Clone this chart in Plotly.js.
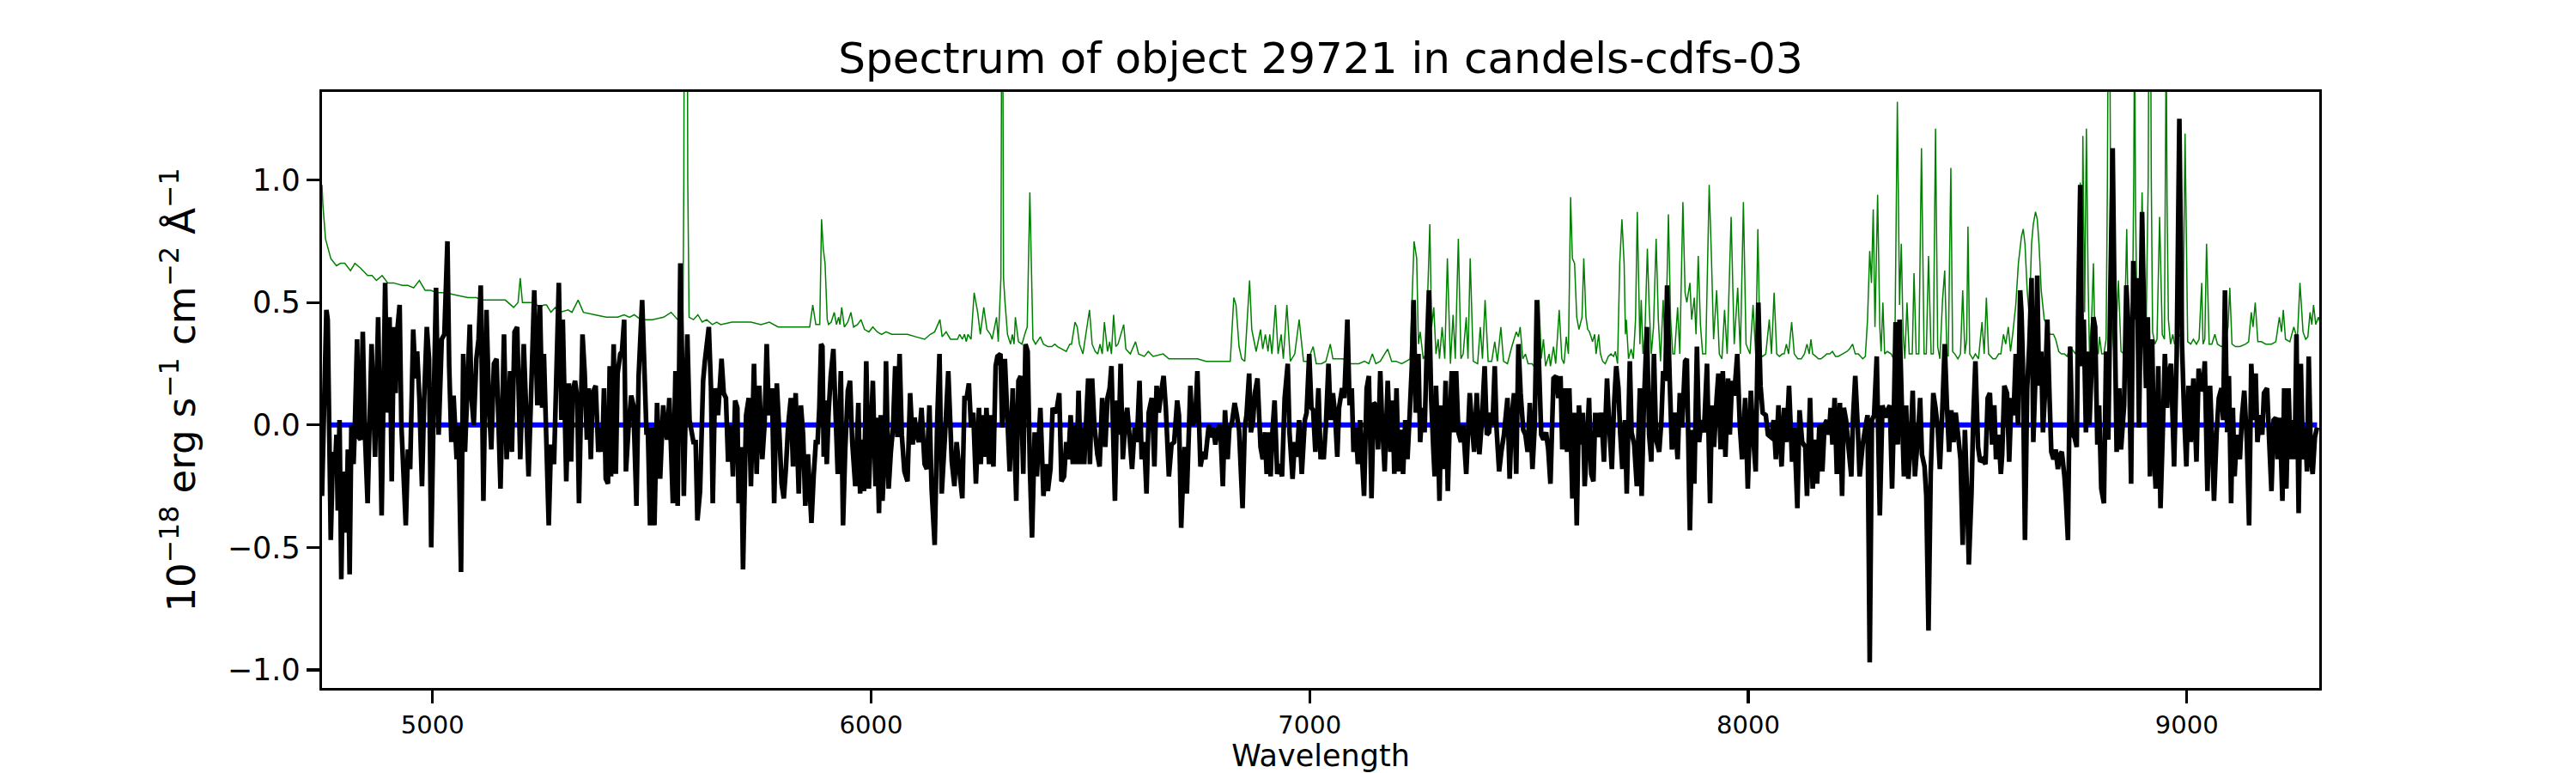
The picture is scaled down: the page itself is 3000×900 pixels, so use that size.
<!DOCTYPE html>
<html><head><meta charset="utf-8">
<script src="https://cdn.plot.ly/plotly-3.0.1.min.js"></script>
<style>html,body{margin:0;padding:0;background:#fff;}#chart{width:3000px;height:900px;}</style>
</head><body><div id="chart"></div>
<script>
// ---- Data: [wavelength (Angstrom), flux (1e-18 erg/s/cm2/A)] ----
const fluxSeg1 = [[4748,-0.29],[4758,0.47],[4761,0.43],[4768,-0.47],[4773,-0.11],[4777,-0.20],[4781,-0.04],[4784,-0.35],[4788,0.02],[4792,-0.63],[4796,-0.19],[4803,-0.44],[4807,-0.10],[4811,-0.61],[4815,0.00],[4820,-0.16],[4823,0.00],[4828,0.35],[4832,-0.05],[4836,-0.06],[4841,0.38],[4846,-0.04],[4852,-0.32],[4861,0.33],[4869,-0.13],[4876,0.44],[4884,-0.37],[4892,0.58],[4897,0.05],[4902,0.44],[4907,-0.23],[4912,0.40],[4916,0.13],[4919,0.37],[4925,0.49],[4929,0.00],[4939,-0.41],[4944,-0.10],[4949,-0.18],[4956,0.39],[4961,0.19],[4965,0.30],[4970,0.11],[4976,-0.25],[4981,0.11],[4987,0.40],[4992,0.27],[4997,-0.50],[5003,0.11],[5008,0.56],[5014,-0.04],[5021,0.35],[5027,0.37],[5034,0.75],[5038,0.24],[5043,-0.07],[5048,0.12],[5055,-0.14],[5059,0.00],[5065,-0.60],[5070,0.29],[5074,-0.11],[5085,0.41],[5089,0.11],[5094,0.00],[5100,0.27],[5105,0.35],[5110,0.57],[5116,-0.31],[5123,0.47],[5129,0.07],[5134,-0.10],[5140,0.25],[5146,0.27],[5155,-0.26],[5163,0.37],[5169,-0.14],[5177,0.22],[5181,-0.11],[5187,0.38],[5193,0.40],[5200,-0.14],[5208,0.33],[5219,-0.21],[5232,0.55],[5239,0.08],[5245,0.49],[5250,0.07],[5254,0.29],[5265,-0.41],[5270,-0.08],[5277,-0.16],[5280,0.04],[5288,0.58],[5294,0.02],[5297,0.43],[5305,-0.23],[5311,0.17],[5316,-0.15]];
const fluxSeg2 = [[5320,0.14],[5325,0.18],[5330,0.11],[5334,-0.32],[5342,0.37],[5347,0.21],[5352,-0.06],[5356,0.15],[5361,-0.14],[5365,0.13],[5372,0.16],[5378,-0.11],[5383,-0.01],[5387,-0.11],[5391,0.15],[5395,-0.22],[5400,-0.24],[5404,0.24],[5407,-0.21],[5413,0.33],[5418,-0.20],[5422,0.21],[5428,0.29],[5432,0.30],[5437,0.43],[5441,-0.19],[5447,-0.01],[5453,0.12],[5458,0.08],[5465,-0.33],[5470,0.20],[5478,0.51],[5482,0.29],[5488,-0.04],[5491,-0.01],[5496,-0.41],[5501,-0.01],[5506,-0.41],[5512,0.09],[5519,-0.22],[5526,0.08],[5530,-0.01],[5535,-0.06],[5540,0.11],[5548,-0.32],[5554,0.22],[5559,-0.33],[5565,0.66],[5569,0.27],[5573,-0.29],[5581,0.37],[5586,0.02],[5595,-0.07],[5600,-0.07],[5604,-0.39],[5610,-0.27],[5617,0.18],[5621,0.26],[5630,0.40],[5635,0.15],[5639,-0.32],[5644,0.15],[5651,0.04],[5659,0.27],[5664,0.13],[5669,0.11],[5674,-0.15],[5680,0.00],[5685,-0.21],[5690,0.10],[5695,0.07],[5698,-0.32],[5704,-0.09],[5708,-0.59],[5715,0.04],[5721,0.11],[5726,-0.25],[5733,0.25],[5739,-0.20],[5745,0.16],[5752,-0.14],[5757,0.00],[5762,0.33],[5767,0.04],[5774,0.15],[5779,-0.32],[5785,0.17],[5791,-0.04],[5796,-0.24],[5801,-0.30],[5806,-0.17],[5811,0.00],[5817,0.11],[5822,-0.17],[5828,0.13],[5835,-0.28],[5840,0.08],[5845,-0.04],[5850,-0.33],[5856,-0.12],[5864,-0.40],[5869,-0.21],[5874,-0.07],[5878,-0.07],[5882,0.07],[5886,0.33]];
const fluxSeg3 = [[5889,0.32],[5892,-0.13],[5895,0.10],[5899,-0.16],[5903,0.05],[5908,0.20],[5914,0.31],[5920,0.00],[5924,-0.20],[5931,0.22],[5936,-0.41],[5941,-0.10],[5947,0.14],[5952,0.18],[5957,-0.07],[5964,-0.25],[5971,0.09],[5975,-0.28],[5978,-0.06],[5984,-0.27],[5989,0.26],[5995,-0.26],[5999,-0.06],[6004,0.18],[6010,-0.25],[6013,0.03],[6018,-0.36],[6022,0.04],[6026,-0.31],[6031,-0.12],[6034,0.26],[6040,-0.26],[6045,-0.11],[6050,-0.01],[6055,0.24],[6060,-0.05],[6065,0.29],[6070,-0.04],[6076,-0.19],[6083,-0.23],[6089,0.13],[6095,-0.08],[6099,0.03],[6104,-0.04],[6109,-0.07],[6115,0.07],[6122,-0.16],[6127,-0.18],[6133,0.08],[6138,-0.26],[6145,-0.49],[6151,0.03],[6156,0.29],[6161,-0.28],[6168,-0.06],[6176,0.22],[6184,-0.15],[6190,-0.25],[6195,-0.07],[6200,-0.16],[6208,-0.30],[6213,0.11],[6218,0.11],[6223,0.17],[6228,-0.01],[6233,0.05],[6239,-0.24],[6246,0.07],[6250,-0.16],[6254,0.04],[6259,-0.13],[6263,0.07],[6269,-0.16],[6273,0.04],[6279,-0.17],[6284,0.24],[6288,0.28],[6295,0.29],[6299,-0.01],[6305,0.27],[6311,0.02],[6316,-0.19],[6323,0.15],[6331,-0.31],[6336,0.18],[6341,0.20],[6347,-0.20],[6352,0.33],[6357,0.30],[6362,-0.17],[6367,-0.46],[6373,-0.03],[6378,-0.21],[6386,0.07],[6393,-0.29],[6399,-0.16],[6403,-0.27],[6409,-0.18],[6414,0.07],[6419,0.05],[6423,0.06],[6429,0.13],[6434,-0.23],[6440,-0.21],[6445,-0.07],[6450,-0.14],[6455,0.04]];
const fluxSeg4 = [[6460,-0.16],[6465,0.00],[6469,-0.16],[6473,0.14],[6478,-0.16],[6483,-0.01],[6486,-0.16],[6491,0.04],[6495,0.19],[6499,-0.16],[6504,0.19],[6509,0.00],[6516,-0.12],[6521,-0.17],[6527,0.11],[6534,-0.09],[6539,0.11],[6544,0.15],[6548,0.24],[6556,-0.31],[6561,0.10],[6565,-0.04],[6569,0.25],[6574,-0.14],[6580,0.02],[6584,0.07],[6589,-0.04],[6595,-0.18],[6601,-0.01],[6606,-0.07],[6612,0.18],[6617,-0.14],[6623,-0.07],[6628,-0.28],[6633,0.05],[6640,0.11],[6646,-0.17],[6651,0.16],[6656,0.05],[6661,0.13],[6667,0.20],[6672,0.07],[6679,-0.21],[6685,-0.08],[6691,-0.07],[6698,0.10],[6702,0.04],[6707,-0.42],[6712,-0.18],[6715,-0.09],[6720,-0.28],[6728,0.16],[6732,0.00],[6739,0.02],[6744,0.22],[6751,-0.17],[6757,-0.11],[6762,-0.14],[6770,0.00],[6775,-0.05],[6780,-0.01],[6785,-0.08],[6790,-0.02],[6796,0.00],[6802,-0.25],[6807,0.06],[6813,-0.14],[6817,-0.01],[6822,0.00],[6829,0.09],[6834,0.04],[6839,-0.02],[6847,-0.34],[6852,-0.01],[6856,0.04],[6862,0.21],[6866,-0.03],[6871,0.02],[6875,0.13],[6881,0.19],[6888,-0.09],[6893,-0.14],[6898,-0.03],[6902,-0.20],[6906,-0.03],[6911,-0.21],[6915,-0.03],[6920,0.10],[6926,-0.20],[6931,-0.16],[6937,-0.21],[6943,0.11],[6950,0.25],[6954,-0.03],[6961,-0.22],[6966,-0.07],[6971,-0.13],[6976,0.02],[6982,-0.20],[6989,0.02],[6993,0.05],[6999,0.29],[7004,0.07],[7008,0.06],[7013,-0.11],[7020,0.15],[7025,-0.14]];
const fluxSeg5 = [[7027,-0.09],[7032,-0.14],[7037,0.00],[7043,0.25],[7048,0.02],[7053,0.13],[7058,0.04],[7063,-0.13],[7067,0.07],[7074,0.15],[7079,0.11],[7086,0.43],[7091,0.08],[7096,0.15],[7100,-0.11],[7105,-0.01],[7110,-0.16],[7115,0.02],[7124,-0.29],[7130,0.15],[7135,0.20],[7141,-0.30],[7146,0.09],[7152,0.08],[7156,-0.10],[7161,0.22],[7165,0.02],[7171,-0.19],[7178,0.18],[7184,-0.11],[7189,0.10],[7193,-0.20],[7198,0.15],[7203,-0.19],[7208,-0.02],[7213,-0.20],[7218,0.02],[7223,-0.14],[7228,0.04],[7233,0.24],[7237,0.51],[7242,0.05],[7248,0.29],[7252,-0.07],[7257,0.07],[7262,-0.03],[7267,0.30],[7272,0.55],[7277,0.11],[7282,-0.10],[7285,-0.21],[7288,0.16],[7293,-0.09],[7296,-0.31],[7300,0.08],[7304,-0.18],[7310,0.18],[7315,-0.27],[7319,-0.01],[7324,0.22],[7328,-0.03],[7334,0.22],[7339,-0.03],[7345,-0.07],[7350,0.00],[7357,-0.20],[7365,0.13],[7370,0.00],[7375,-0.11],[7381,0.13],[7387,-0.12],[7392,0.00],[7399,0.24],[7404,-0.04],[7409,-0.03],[7413,0.05],[7417,0.00],[7422,0.24],[7426,-0.01],[7432,-0.19],[7437,-0.11],[7443,-0.04],[7451,0.11],[7456,-0.22],[7461,0.04],[7466,0.13],[7471,-0.20],[7476,0.33],[7481,0.13],[7487,-0.02],[7492,-0.04],[7497,-0.11],[7502,0.09],[7508,-0.18],[7513,-0.01],[7518,0.51],[7523,0.24],[7528,-0.04],[7533,-0.06],[7539,-0.03],[7544,-0.10],[7549,-0.24],[7556,0.19],[7562,0.20],[7567,0.11],[7572,0.20],[7576,-0.10],[7582,0.15],[7587,-0.11],[7592,0.15],[7596,-0.09]];
const fluxSeg6 = [[7599,-0.30],[7604,0.05],[7609,-0.41],[7614,0.08],[7619,-0.08],[7623,0.05],[7627,-0.25],[7632,-0.09],[7637,0.11],[7642,-0.20],[7647,-0.23],[7651,0.04],[7656,0.04],[7660,-0.05],[7665,0.05],[7671,-0.15],[7678,0.19],[7683,0.00],[7689,-0.18],[7694,0.08],[7699,0.24],[7704,0.15],[7708,-0.03],[7713,-0.18],[7719,0.02],[7723,-0.28],[7730,0.26],[7734,-0.03],[7740,-0.08],[7746,-0.25],[7753,0.15],[7757,-0.29],[7762,0.08],[7769,0.40],[7774,-0.04],[7779,-0.15],[7785,0.29],[7790,-0.06],[7797,-0.11],[7802,0.02],[7806,0.22],[7811,0.18],[7815,0.57],[7821,0.18],[7826,-0.10],[7832,0.05],[7839,-0.14],[7844,0.13],[7849,-0.01],[7856,0.26],[7860,0.27],[7867,-0.43],[7872,-0.02],[7877,-0.24],[7883,0.32],[7888,-0.07],[7893,0.02],[7899,-0.03],[7906,0.25],[7913,-0.32],[7917,0.08],[7922,-0.09],[7928,0.11],[7932,0.21],[7937,-0.10],[7942,0.22],[7948,-0.13],[7954,0.19],[7958,-0.04],[7963,0.18],[7968,0.12],[7975,0.29],[7981,-0.01],[7986,-0.14],[7993,0.11],[7999,-0.26],[8006,0.14],[8011,-0.04],[8017,-0.19],[8023,0.50],[8028,0.16],[8033,0.05],[8040,0.04],[8045,-0.04],[8052,-0.05],[8058,0.02],[8063,-0.14],[8069,0.08],[8076,-0.17],[8082,0.07],[8087,-0.07],[8093,0.16],[8100,-0.15],[8105,-0.01],[8112,-0.34],[8117,0.06],[8123,-0.07],[8130,-0.09],[8134,-0.29],[8141,0.11],[8147,-0.26],[8152,-0.06],[8157,-0.24],[8162,-0.01]];
const fluxSeg7 = [[8166,0.00],[8169,-0.19],[8174,0.00],[8179,0.02],[8184,-0.04],[8188,0.07],[8192,-0.08],[8197,0.11],[8202,-0.20],[8205,-0.04],[8209,0.09],[8214,-0.29],[8218,0.07],[8223,0.02],[8228,-0.08],[8235,-0.21],[8239,0.03],[8244,0.20],[8250,-0.02],[8254,-0.21],[8261,-0.08],[8267,-0.01],[8272,0.04],[8277,-0.97],[8282,0.02],[8287,0.04],[8293,0.28],[8300,-0.37],[8306,0.08],[8313,0.03],[8317,0.06],[8323,0.08],[8328,-0.26],[8332,0.04],[8336,0.42],[8341,-0.08],[8345,0.43],[8351,0.02],[8355,-0.21],[8360,0.08],[8365,-0.22],[8370,-0.09],[8375,0.14],[8380,-0.21],[8387,-0.04],[8392,0.11],[8396,-0.12],[8402,-0.17],[8406,-0.29],[8411,-0.84],[8416,-0.20],[8422,0.13],[8427,0.07],[8432,-0.01],[8437,-0.18],[8443,0.08],[8448,0.33],[8453,0.08],[8458,-0.11],[8463,0.06],[8468,-0.07],[8473,0.05],[8479,-0.05],[8484,-0.14],[8489,-0.49],[8494,-0.02],[8499,-0.28],[8503,-0.57],[8509,-0.28],[8513,0.02],[8518,0.26],[8524,-0.09],[8529,-0.15],[8535,-0.14],[8541,-0.16],[8546,0.11],[8551,0.13],[8556,-0.08],[8561,0.08],[8565,-0.14],[8571,-0.04],[8576,-0.20],[8579,-0.12],[8584,0.16],[8590,0.13],[8595,-0.15],[8600,0.11],[8605,0.04],[8610,0.29],[8615,0.00],[8620,0.55],[8623,0.46],[8626,0.27],[8631,-0.47],[8636,0.15],[8641,0.33],[8646,0.60],[8650,-0.07],[8654,0.15],[8659,0.61],[8663,0.16],[8668,0.30],[8672,-0.03],[8676,0.11],[8682,0.43],[8687,0.11],[8691,-0.11],[8696,-0.14],[8701,-0.10],[8706,-0.18],[8711,-0.12],[8715,-0.11],[8721,-0.21],[8724,-0.29],[8729,-0.47],[8734,0.32]];
const fluxSeg8 = [[8739,-0.04],[8744,-0.05],[8749,-0.09],[8752,0.43],[8757,0.98],[8761,0.24],[8765,0.43],[8770,-0.03],[8774,0.30],[8778,0.00],[8783,0.24],[8787,0.44],[8791,0.40],[8796,-0.08],[8800,0.08],[8805,-0.26],[8811,-0.32],[8816,0.30],[8821,-0.06],[8826,0.58],[8831,1.13],[8835,0.52],[8840,-0.11],[8846,0.15],[8850,-0.10],[8857,0.08],[8862,0.57],[8867,0.40],[8873,-0.24],[8878,0.67],[8883,0.43],[8887,0.60],[8891,-0.01],[8898,0.87],[8902,0.49],[8907,0.15],[8911,0.44],[8916,-0.21],[8921,0.35],[8925,-0.10],[8929,-0.26],[8935,0.24],[8940,-0.34],[8945,-0.04],[8950,0.29],[8955,0.07],[8959,0.21],[8964,0.25],[8971,-0.17],[8977,0.29],[8983,1.25],[8989,0.33],[8994,0.04],[8999,-0.17],[9004,0.16],[9009,-0.07],[9015,0.19],[9022,-0.15],[9027,0.23],[9033,0.14],[9037,0.15],[9041,0.26],[9047,-0.27],[9053,0.16],[9057,-0.03],[9062,-0.31],[9068,-0.03],[9073,0.11],[9079,0.15],[9083,0.02],[9087,0.55],[9092,-0.03],[9096,0.20],[9101,-0.32],[9105,0.07],[9109,-0.21],[9114,-0.04],[9121,-0.14],[9126,0.04],[9131,0.14],[9137,-0.07],[9142,-0.41],[9147,0.25],[9152,0.02],[9157,0.21],[9161,-0.07],[9167,0.04],[9172,-0.04],[9176,0.13],[9183,0.15],[9188,-0.07],[9193,-0.27],[9198,0.02],[9203,0.03],[9207,-0.14],[9212,0.03],[9218,-0.31],[9222,0.15],[9227,-0.26],[9232,0.15],[9237,-0.14],[9242,0.02],[9246,-0.14],[9250,0.37],[9255,-0.36],[9260,0.25],[9265,-0.14],[9270,-0.01],[9274,-0.19],[9278,0.28],[9283,-0.14],[9287,-0.20],[9292,-0.05],[9297,-0.01]];

// ---- Noise / sky spectrum (green) ----
const noiseSeg1 = [[4748,0.98],[4750,0.90],[4756,0.76],[4768,0.68],[4781,0.65],[4790,0.66],[4800,0.66],[4813,0.63],[4823,0.66],[4836,0.64],[4852,0.61],[4862,0.61],[4872,0.59],[4885,0.61],[4898,0.58],[4911,0.58],[4931,0.57],[4944,0.57],[4957,0.56],[4970,0.59],[4983,0.55],[4996,0.55],[5009,0.54],[5029,0.54],[5055,0.53],[5081,0.52],[5100,0.52],[5113,0.51],[5140,0.51],[5166,0.51],[5185,0.48],[5195,0.50],[5200,0.60],[5205,0.50],[5218,0.50],[5231,0.50],[5244,0.48],[5254,0.49],[5260,0.49],[5270,0.46],[5280,0.48],[5290,0.46],[5309,0.47],[5318,0.46]];
const noiseSeg2 = [[5332,0.51],[5344,0.46],[5370,0.45],[5396,0.44],[5422,0.44],[5437,0.45],[5449,0.44],[5460,0.45],[5475,0.43],[5501,0.43],[5527,0.44],[5544,0.46],[5559,0.43],[5571,0.44],[5573,1.0],[5575,2.5],[5580,2.5],[5582,1.0],[5585,0.44],[5595,0.43],[5605,0.45],[5615,0.42],[5625,0.43],[5638,0.41],[5648,0.42],[5657,0.41],[5683,0.42],[5710,0.42],[5726,0.42],[5749,0.41],[5768,0.42],[5788,0.40],[5827,0.40],[5860,0.40],[5867,0.49],[5874,0.41],[5883,0.41],[5887,0.84],[5891,0.72],[5895,0.66],[5900,0.43]];
const noiseSeg3 = [[5903,0.41],[5909,0.42],[5916,0.46],[5921,0.41],[5926,0.44],[5929,0.41],[5933,0.48],[5939,0.40],[5947,0.42],[5954,0.46],[5960,0.40],[5969,0.41],[5977,0.43],[5985,0.39],[5995,0.38],[6004,0.40],[6014,0.38],[6024,0.37],[6034,0.38],[6047,0.37],[6066,0.37],[6083,0.37],[6102,0.36],[6122,0.35],[6135,0.37],[6145,0.38],[6157,0.43],[6162,0.36],[6171,0.38],[6181,0.35],[6197,0.35],[6202,0.37],[6208,0.35],[6213,0.37],[6217,0.34],[6221,0.37],[6228,0.35],[6235,0.54],[6243,0.46],[6249,0.37],[6257,0.48],[6264,0.39],[6272,0.37],[6276,0.35],[6286,0.44],[6290,0.34],[6296,0.60],[6298,1.8],[6300,1.8],[6302,0.60],[6305,0.51],[6311,0.37],[6318,0.33],[6322,0.37],[6326,0.33],[6329,0.44],[6336,0.34],[6344,0.33],[6352,0.38],[6356,0.40],[6362,0.95],[6369,0.35],[6375,0.33],[6386,0.36],[6393,0.33],[6403,0.32],[6412,0.32],[6419,0.33],[6425,0.32],[6435,0.31],[6445,0.30],[6453,0.33]];
const noiseSeg4 = [[6457,0.33],[6465,0.42],[6470,0.40],[6475,0.33],[6483,0.29],[6498,0.47],[6504,0.33],[6511,0.30],[6517,0.29],[6522,0.33],[6527,0.29],[6532,0.42],[6539,0.30],[6544,0.34],[6548,0.29],[6553,0.45],[6558,0.32],[6563,0.33],[6576,0.41],[6581,0.31],[6591,0.29],[6603,0.34],[6610,0.29],[6623,0.28],[6632,0.30],[6643,0.28],[6666,0.29],[6679,0.27],[6698,0.27],[6712,0.27],[6731,0.27],[6744,0.27],[6764,0.26],[6777,0.26],[6796,0.26],[6819,0.26],[6827,0.52],[6832,0.49],[6839,0.32],[6845,0.27],[6852,0.26],[6863,0.59],[6868,0.39],[6878,0.30],[6888,0.39],[6893,0.31],[6899,0.37],[6905,0.30],[6909,0.37],[6914,0.29],[6922,0.49],[6928,0.29],[6935,0.37],[6940,0.27],[6948,0.49],[6956,0.26],[6966,0.29],[6976,0.43],[6986,0.26],[6995,0.26],[7008,0.32],[7015,0.25],[7027,0.25]];
const noiseSeg5 = [[7037,0.26],[7047,0.33],[7053,0.27],[7066,0.27],[7076,0.27],[7092,0.25],[7112,0.25],[7125,0.26],[7135,0.25],[7143,0.29],[7151,0.25],[7161,0.26],[7171,0.29],[7178,0.31],[7187,0.26],[7197,0.26],[7210,0.25],[7220,0.26],[7229,0.27],[7238,0.75],[7244,0.68],[7248,0.33],[7252,0.38],[7259,0.27],[7265,0.29],[7274,0.82],[7278,0.40],[7283,0.48],[7288,0.29],[7293,0.35],[7296,0.27],[7302,0.40],[7308,0.27],[7314,0.68],[7321,0.25],[7327,0.45],[7332,0.27],[7339,0.76],[7345,0.27],[7350,0.29],[7357,0.44],[7361,0.27],[7366,0.68],[7373,0.26],[7383,0.25],[7389,0.40],[7394,0.27],[7400,0.51],[7407,0.26],[7415,0.26],[7422,0.34],[7428,0.26],[7436,0.40],[7442,0.26],[7451,0.25],[7461,0.32],[7471,0.38],[7476,0.36],[7480,0.40],[7486,0.27],[7492,0.29],[7498,0.25],[7507,0.25],[7511,0.24],[7518,0.27],[7523,0.51],[7528,0.27],[7533,0.35],[7538,0.24],[7546,0.29],[7549,0.24],[7556,0.32],[7561,0.25],[7569,0.47],[7575,0.27],[7580,0.25],[7585,0.36],[7590,0.29],[7595,0.93]];
const noiseSeg6 = [[7599,0.68],[7604,0.66],[7609,0.44],[7614,0.39],[7621,0.44],[7625,0.68],[7630,0.44],[7634,0.39],[7638,0.38],[7645,0.34],[7650,0.37],[7653,0.29],[7659,0.37],[7663,0.29],[7668,0.26],[7674,0.25],[7681,0.28],[7687,0.29],[7693,0.28],[7697,0.30],[7702,0.25],[7707,0.66],[7712,0.84],[7717,0.66],[7720,0.37],[7722,0.43],[7727,0.27],[7733,0.31],[7738,0.27],[7743,0.43],[7747,0.87],[7753,0.33],[7756,0.51],[7760,0.29],[7764,0.35],[7770,0.72],[7774,0.49],[7779,0.29],[7784,0.40],[7790,0.76],[7795,0.43],[7800,0.26],[7806,0.51],[7811,0.27],[7818,0.86],[7823,0.43],[7828,0.29],[7832,0.29],[7839,0.48],[7844,0.29],[7851,0.91],[7856,0.54],[7860,0.50],[7867,0.58],[7871,0.43],[7877,0.52],[7881,0.37],[7886,0.69],[7891,0.41],[7896,0.29],[7903,0.29],[7911,0.98],[7916,0.69],[7921,0.35],[7928,0.55],[7934,0.29],[7940,0.27],[7946,0.47],[7952,0.29],[7961,0.85],[7968,0.33],[7976,0.56],[7982,0.29],[7989,0.91],[7995,0.33],[8004,0.29],[8011,0.49],[8017,0.29],[8022,0.80],[8027,0.29],[8033,0.28],[8040,0.29],[8048,0.43],[8053,0.29],[8059,0.54],[8065,0.29],[8071,0.28],[8078,0.29],[8082,0.29],[8087,0.33],[8092,0.29],[8099,0.42],[8105,0.29],[8113,0.27],[8121,0.27],[8128,0.29],[8134,0.33],[8139,0.29],[8143,0.35],[8147,0.29],[8154,0.28],[8160,0.27]];
const noiseSeg7 = [[8166,0.27],[8173,0.28],[8179,0.29],[8186,0.29],[8192,0.30],[8199,0.28],[8205,0.28],[8215,0.29],[8225,0.30],[8231,0.31],[8238,0.33],[8244,0.29],[8251,0.29],[8261,0.27],[8267,0.28],[8272,0.43],[8277,0.71],[8281,0.58],[8285,0.88],[8289,0.40],[8291,0.58],[8295,0.94],[8300,0.40],[8303,0.30],[8307,0.50],[8311,0.29],[8317,0.30],[8326,0.29],[8334,0.26],[8340,1.32],[8345,0.49],[8349,0.74],[8353,0.38],[8357,0.27],[8362,0.50],[8367,0.29],[8374,0.29],[8378,0.62],[8383,0.29],[8389,0.29],[8395,1.13],[8401,0.29],[8406,0.29],[8411,0.69],[8417,0.29],[8422,0.29],[8427,1.21],[8432,0.32],[8437,0.27],[8443,0.51],[8448,0.63],[8453,0.29],[8456,0.28],[8462,1.05],[8466,0.30],[8471,0.29],[8478,0.27],[8484,0.29],[8489,0.55],[8494,0.29],[8498,0.35],[8501,0.81],[8505,0.29],[8512,0.27],[8518,0.29],[8525,0.27],[8533,0.42],[8538,0.29],[8543,0.52],[8548,0.29],[8558,0.27],[8564,0.27],[8571,0.29],[8576,0.29],[8582,0.37],[8587,0.33],[8593,0.40],[8598,0.30],[8603,0.37],[8610,0.49],[8616,0.66],[8623,0.77],[8627,0.80],[8631,0.74],[8636,0.55],[8641,0.44],[8646,0.74],[8650,0.82],[8655,0.87],[8659,0.84],[8663,0.74],[8668,0.55],[8675,0.43],[8682,0.41],[8687,0.37],[8691,0.37],[8696,0.37],[8701,0.35],[8708,0.30],[8714,0.29],[8721,0.29],[8727,0.28],[8734,0.32]];
const noiseSeg8 = [[8746,0.29],[8752,0.37],[8757,0.99],[8761,0.46],[8763,1.18],[8767,0.46],[8771,1.21],[8775,0.58],[8778,0.30],[8783,0.43],[8787,0.66],[8791,0.30],[8798,0.29],[8801,0.36],[8806,0.29],[8811,0.29],[8816,0.35],[8819,1.0],[8821,1.8],[8824,1.8],[8826,1.0],[8829,0.43],[8834,0.29],[8839,0.40],[8844,0.59],[8850,0.30],[8857,0.29],[8863,0.80],[8867,0.35],[8872,0.30],[8876,0.43],[8879,1.0],[8881,1.7],[8883,0.9],[8886,0.49],[8893,0.37],[8898,0.95],[8903,0.43],[8907,0.37],[8912,1.0],[8914,1.9],[8917,1.9],[8919,1.0],[8922,0.38],[8927,0.33],[8932,0.35],[8938,0.85],[8944,0.37],[8949,0.35],[8951,1.0],[8953,1.6],[8955,0.9],[8958,0.43],[8963,0.33],[8968,0.37],[8972,0.33],[8979,0.35],[8984,0.37],[8991,0.34],[8996,1.19],[9002,0.34],[9009,0.33],[9015,0.35],[9022,0.33],[9028,0.35],[9034,0.58],[9037,0.33],[9041,0.35],[9045,0.74],[9051,0.33],[9057,0.33],[9064,0.37],[9070,0.33],[9079,0.32],[9087,0.33],[9094,0.40],[9098,0.56],[9103,0.33],[9111,0.32],[9121,0.32],[9134,0.33],[9141,0.34],[9147,0.46],[9151,0.40],[9156,0.50],[9162,0.34],[9170,0.34],[9180,0.33],[9193,0.33],[9203,0.34],[9211,0.44],[9216,0.38],[9220,0.47],[9225,0.35],[9235,0.34],[9244,0.40],[9252,0.35],[9258,0.58],[9265,0.38],[9271,0.35],[9276,0.36],[9281,0.46],[9285,0.41],[9289,0.49],[9294,0.41],[9300,0.44],[9305,0.41]];

// ---- Continuum model (blue) ----
const contWave = [4765, 9297];
const contFlux = [0, 0];

const xTicks = [5000, 6000, 7000, 8000, 9000];
const yTicks = [-1.0, -0.5, 0.0, 0.5, 1.0];
const xRange = [4748, 9302];
const yRange = [-1.074, 1.36];
const titleText = 'Spectrum of object 29721 in candels-cdfs-03';
const yLabel = '10<sup>\u221218</sup> erg s<sup>\u22121</sup> cm<sup>\u22122</sup> \u00c5<sup>\u22121</sup>';
const xLabel = 'Wavelength';

function unzip(segs) {
  const x = [], y = [];
  segs.forEach(s => s.forEach(p => { x.push(p[0]); y.push(p[1]); }));
  return { x, y };
}
const flux = unzip([fluxSeg1, fluxSeg2, fluxSeg3, fluxSeg4, fluxSeg5, fluxSeg6, fluxSeg7, fluxSeg8]);
const noise = unzip([noiseSeg1, noiseSeg2, noiseSeg3, noiseSeg4, noiseSeg5, noiseSeg6, noiseSeg7, noiseSeg8]);

const FONT = 'DejaVu Sans, Verdana, sans-serif';
const traces = [
  { x: noise.x, y: noise.y, type: 'scatter', mode: 'lines', line: { color: '#008000', width: 1.5, simplify: false }, hoverinfo: 'skip' },
  { x: contWave, y: contFlux, type: 'scatter', mode: 'lines', line: { color: '#0000ff', width: 6 }, hoverinfo: 'skip' },
  { x: flux.x, y: flux.y, type: 'scatter', mode: 'lines', line: { color: '#000000', width: 5.5, simplify: false }, hoverinfo: 'skip' }
];
const axisCommon = {
  showline: true, linecolor: '#000', linewidth: 3.3, mirror: true,
  ticks: 'outside', ticklen: 15, tickwidth: 3.3, tickcolor: '#000',
  showgrid: false, zeroline: false, fixedrange: true
};
const layout = {
  width: 3000, height: 900,
  margin: { l: 375, r: 299, t: 107, b: 99 },
  paper_bgcolor: '#fff', plot_bgcolor: '#fff',
  showlegend: false, hovermode: false,
  font: { family: FONT, color: '#000' },
  title: { text: titleText, font: { family: FONT, size: 50, color: '#000' }, xref: 'paper', x: 0.5, xanchor: 'center', yref: 'container', y: 1 - 67 / 900, yanchor: 'middle' },
  xaxis: Object.assign({}, axisCommon, {
    range: xRange, tickvals: xTicks, ticktext: xTicks.map(String),
    tickfont: { family: FONT, size: 29, color: '#000' },
    title: { text: xLabel, font: { family: FONT, size: 35, color: '#000' }, standoff: 0 }
  }),
  yaxis: Object.assign({}, axisCommon, {
    range: yRange, tickvals: yTicks, ticktext: yTicks.map(v => v.toFixed(1).replace('-', '\u2212')),
    tickfont: { family: FONT, size: 35, color: '#000' },
    title: { text: yLabel, font: { family: FONT, size: 45, color: '#000' }, standoff: 24 }
  })
};
Plotly.newPlot('chart', traces, layout, { staticPlot: true, displayModeBar: false });
</script>
</body></html>
